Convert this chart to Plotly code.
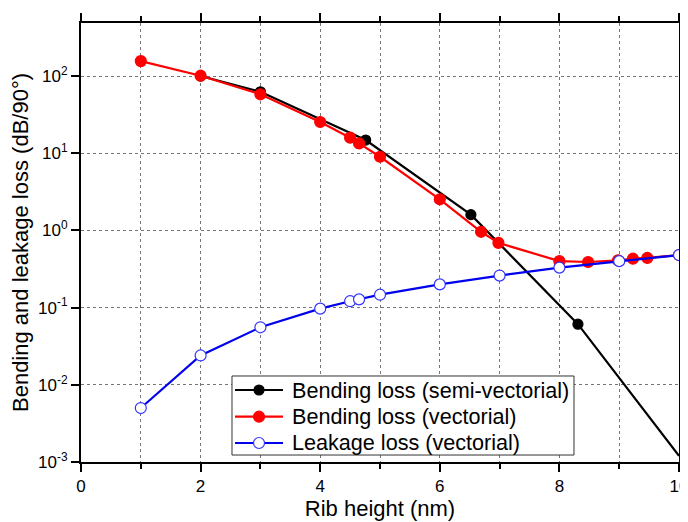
import plotly.graph_objects as go

# Data
semi_x = [2, 3, 4.76, 6.52, 8.31, 10]
semi_y = [100, 62.6, 14.8, 1.6, 0.061, 0.0012]

vec_x = [1, 2, 3, 4, 4.5, 4.65, 5, 6, 6.69, 6.98, 8, 8.48, 8.98, 9.23, 9.47, 10]
vec_y = [156, 101, 58, 25.4, 15.9, 13.4, 9.0, 2.53, 0.96, 0.69, 0.40, 0.39, 0.41, 0.43, 0.44, 0.48]

leak_x = [1, 2, 3, 4, 4.5, 4.65, 5, 6, 7, 8, 9, 10]
leak_y = [0.005, 0.024, 0.0556, 0.097, 0.121, 0.128, 0.147, 0.20, 0.26, 0.33, 0.40, 0.48]

series_names = ["Bending loss (semi-vectorial)", "Bending loss (vectorial)",
                "Leakage loss (vectorial)"]

x_ticks = [0, 2, 4, 6, 8, 10]
y_ticks = [1e-3, 1e-2, 1e-1, 1, 10, 100]
y_ticktext = ["10<sup>-3</sup>", "10<sup>-2</sup>", "10<sup>-1</sup>", "10<sup>0</sup>",
              "10<sup>1</sup>", "10<sup>2</sup>"]
y_minor_right = [5e-3, 5e-2, 5e-1, 5, 50, 500]

FONT = "Liberation Sans, Arial, sans-serif"

styles = [
    dict(line="black", fill="black", edge="black", size=10, clip=True),
    dict(line="#ff0000", fill="#ff0000", edge="#ff0000", size=11, clip=True),
    dict(line="#0000ee", fill="white", edge="#3333ff", size=11, clip=False),
]
series = [(semi_x, semi_y), (vec_x, vec_y), (leak_x, leak_y)]

fig = go.Figure()
for (xs, ys), name, st in zip(series, series_names, styles):
    sizes = [st["size"]] * len(xs)
    if name == series_names[0]:
        sizes[-1] = 0  # the semi-vectorial curve ends without a marker at the axis
    fig.add_trace(go.Scatter(
        x=xs, y=ys, mode="lines+markers", name=name, showlegend=False,
        cliponaxis=st["clip"],
        line=dict(color=st["line"], width=2.2),
        marker=dict(symbol="circle", size=sizes, color=st["fill"], opacity=1,
                    line=dict(color=st["edge"], width=1.2))))
# invisible trace to carry the right-hand axis
fig.add_trace(go.Scatter(
    x=leak_x, y=leak_y, yaxis="y2", mode="markers", showlegend=False,
    marker=dict(opacity=0), hoverinfo="skip"))

# ---- hand-made legend box (paper coordinates of the plot area) ----
box_x0, box_x1, box_y0, box_y1 = 0.2525, 0.8244, 0.0159, 0.1959
row_y = [0.1640, 0.1032, 0.0433]
line_x0, line_x1, mark_x, text_x = 0.2575, 0.3378, 0.2977, 0.3495

shapes = [dict(type="rect", xref="paper", yref="paper", x0=box_x0, x1=box_x1,
               y0=box_y0, y1=box_y1, fillcolor="white",
               line=dict(color="#333333", width=1), layer="above")]
annotations = []
for ry, name, st in zip(row_y, series_names, styles):
    shapes.append(dict(type="line", xref="paper", yref="paper", x0=line_x0, x1=line_x1,
                       y0=ry, y1=ry, line=dict(color=st["line"], width=2.2), layer="above"))
    r = st["size"] / 2
    shapes.append(dict(type="circle", xref="paper", yref="paper",
                       xsizemode="pixel", ysizemode="pixel", xanchor=mark_x, yanchor=ry,
                       x0=-r, x1=r, y0=-r, y1=r, fillcolor=st["fill"],
                       line=dict(color=st["edge"], width=1.2), layer="above"))
    annotations.append(dict(xref="paper", yref="paper", x=text_x, y=ry, text=name,
                            showarrow=False, xanchor="left", yanchor="middle",
                            font=dict(family=FONT, size=21.6, color="black")))

yrange = [-3, 2.687]

fig.update_layout(
    width=680, height=514,
    margin=dict(l=73, r=9, t=15, b=60),
    paper_bgcolor="white", plot_bgcolor="white",
    font=dict(family=FONT, color="black", size=17),
    showlegend=False,
    shapes=shapes, annotations=annotations,
    xaxis=dict(
        range=[0, 10], tickvals=x_ticks, ticktext=[str(v) for v in x_ticks],
        showline=True, linecolor="black", linewidth=2, mirror="ticks",
        ticks="outside", ticklen=8, tickwidth=2, tickcolor="black",
        tickfont=dict(size=17), automargin=False, ticklabeloverflow="allow",
        showgrid=False, zeroline=False,
        minor=dict(dtick=1, tick0=0, ticks="outside", ticklen=5, tickwidth=2,
                   tickcolor="black", showgrid=True, gridcolor="#777777",
                   griddash="dot", gridwidth=1),
        title=dict(text="Rib height (nm)", font=dict(size=22), standoff=4),
    ),
    yaxis=dict(
        type="log", range=yrange, tickvals=y_ticks, ticktext=y_ticktext,
        showline=True, linecolor="black", linewidth=2, mirror="ticks",
        ticks="outside", ticklen=8, tickwidth=2, tickcolor="black",
        tickfont=dict(size=17), automargin=False, ticklabeloverflow="allow",
        showgrid=True, gridcolor="#777777", griddash="dot", gridwidth=1,
        zeroline=False,
        title=dict(text="Bending and leakage loss (dB/90°)", font=dict(size=22), standoff=4),
    ),
    yaxis2=dict(
        type="log", range=yrange, overlaying="y", side="right", anchor="x",
        tickmode="array", tickvals=y_minor_right, showticklabels=False,
        ticks="outside", ticklen=5, tickwidth=2, tickcolor="black",
        showgrid=False, zeroline=False, showline=False, automargin=False,
    ),
)

fig.write_html("out.html")
